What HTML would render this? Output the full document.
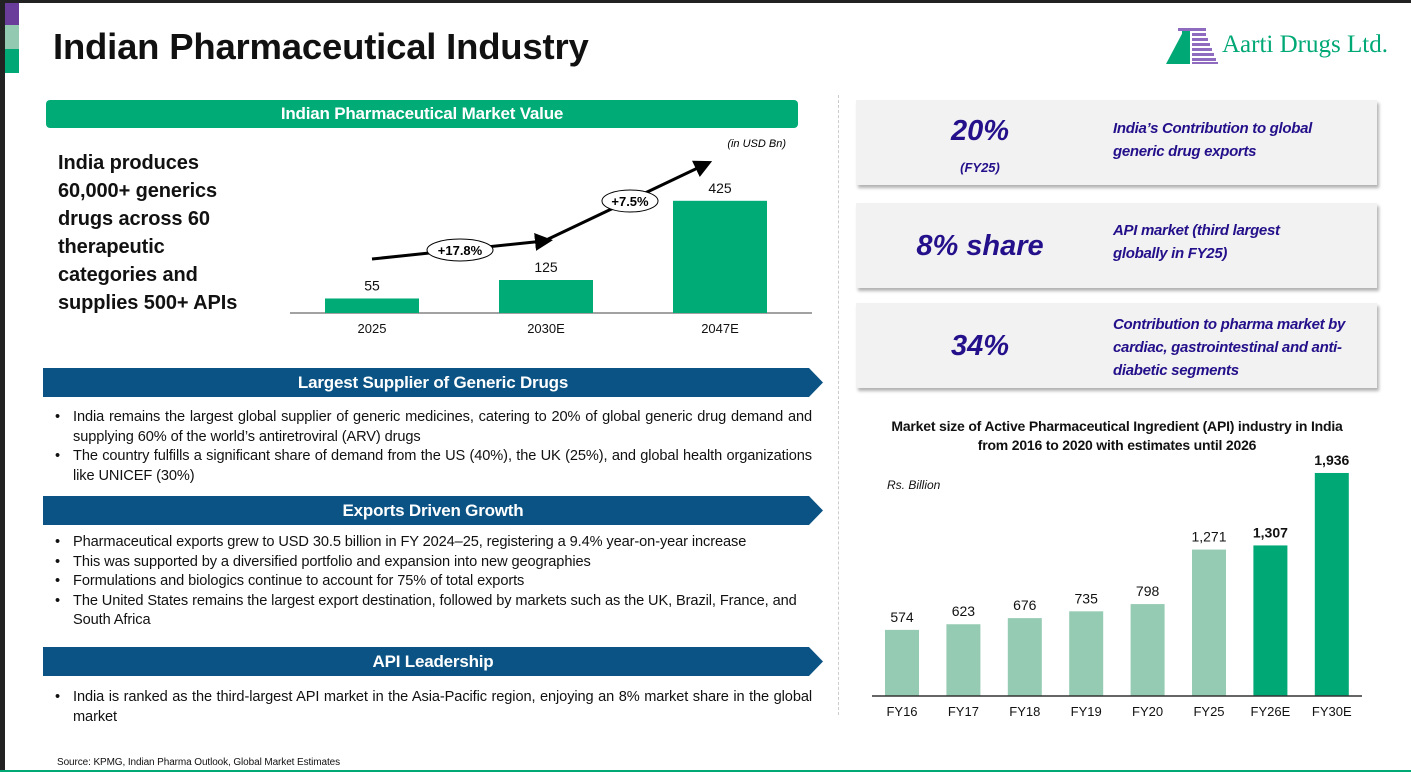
<!DOCTYPE html>
<html><head><meta charset="utf-8">
<style>
*{margin:0;padding:0;box-sizing:border-box}
body{width:1411px;height:772px;position:relative;overflow:hidden;background:#fff;font-family:"Liberation Sans",sans-serif;color:#111}
.a{position:absolute}
.banner{position:absolute;left:43px;width:780px;height:29px;background:#0b5384;color:#fff;font-weight:bold;font-size:17px;text-align:center;line-height:29px;clip-path:polygon(0 0,98.2% 0,100% 50%,98.2% 100%,0 100%);letter-spacing:-0.2px}
.bul{position:absolute;left:55px;width:757px;font-size:14.6px;line-height:19.6px;letter-spacing:-0.1px}
.bul li{list-style:none;position:relative;padding-left:18px;text-align:justify}
.bul li:before{content:"•";position:absolute;left:0}
.card{position:absolute;left:856px;width:521px;height:85px;background:#f2f2f2;box-shadow:2px 3px 3px rgba(0,0,0,.3);color:#23108a;font-weight:bold;font-style:italic}
.big{position:absolute;left:0;width:248px;text-align:center;font-size:29px}
.desc{position:absolute;left:257px;width:258px;font-size:15px;line-height:23px;letter-spacing:-0.3px}
</style></head><body>
<div class="a" style="left:0;top:0;width:5px;height:772px;background:#222"></div>
<div class="a" style="left:0;top:0;width:1411px;height:3px;background:#222"></div>
<div class="a" style="left:5px;top:3px;width:14px;height:22px;background:#6a3d9a"></div>
<div class="a" style="left:5px;top:25px;width:14px;height:24px;background:#93c9b1"></div>
<div class="a" style="left:5px;top:49px;width:14px;height:24px;background:#00a876"></div>
<div class="a" style="left:0;top:770px;width:1411px;height:2px;background:#00a876"></div>

<div class="a" style="left:53px;top:26px;font-size:36.5px;font-weight:bold;letter-spacing:-0.2px">Indian Pharmaceutical Industry</div>

<div class="a" style="left:1164px;top:22px;width:245px;height:46px">
<svg width="60" height="46" viewBox="0 0 60 46"><polygon points="2,42 20,8 22,42" fill="#00a876"/><rect x="18" y="8" width="8" height="34" fill="#00a876"/>
<g fill="#8e6bbf"><rect x="14" y="6" width="14" height="3"/><rect x="28" y="6" width="14" height="3"/><rect x="28" y="11" width="14" height="3"/><rect x="28" y="16" width="16" height="3"/><rect x="28" y="21" width="18" height="3"/><rect x="28" y="26" width="20" height="3"/><rect x="28" y="31" width="22" height="3"/><rect x="28" y="36" width="24" height="3"/><rect x="28" y="40" width="26" height="2"/></g></svg>
<span class="a" style="left:58px;top:9px;font-family:'Liberation Serif',serif;font-size:25px;color:#00a876;white-space:nowrap">Aarti Drugs Ltd.</span></div>

<div class="a" style="left:46px;top:100px;width:752px;height:28px;background:#00ab76;border-radius:4px;color:#fff;font-weight:bold;font-size:17px;line-height:28px;text-align:center;letter-spacing:-0.2px">Indian Pharmaceutical Market Value</div>

<div class="a" style="left:58px;top:149px;font-size:20px;font-weight:bold;line-height:28px;letter-spacing:-0.1px">India produces<br>60,000+ generics<br>drugs across 60<br>therapeutic<br>categories and<br>supplies 500+ APIs</div>

<svg class="a" style="left:0;top:0" width="840" height="350" id="c1"></svg>

<div class="a" style="left:838px;top:95px;height:620px;border-left:1px dashed #ccc"></div>

<div class="banner" style="top:368px">Largest Supplier of Generic Drugs</div>
<ul class="bul" style="top:408px">
<li>India remains the largest global supplier of generic medicines, catering to 20% of global generic drug demand and supplying 60% of the world’s antiretroviral (ARV) drugs</li>
<li>The country fulfills a significant share of demand from the US (40%), the UK (25%), and global health organizations like UNICEF (30%)</li></ul>

<div class="banner" style="top:496px">Exports Driven Growth</div>
<ul class="bul" style="top:533px">
<li>Pharmaceutical exports grew to USD 30.5 billion in FY 2024–25, registering a 9.4% year-on-year increase</li>
<li>This was supported by a diversified portfolio and expansion into new geographies</li>
<li>Formulations and biologics continue to account for 75% of total exports</li>
<li style="text-align:left">The United States remains the largest export destination, followed by markets such as the UK, Brazil, France, and South Africa</li></ul>

<div class="banner" style="top:647px">API Leadership</div>
<ul class="bul" style="top:688px">
<li>India is ranked as the third-largest API market in the Asia-Pacific region, enjoying an 8% market share in the global market</li></ul>

<div class="a" style="left:57px;top:757px;font-size:10px;letter-spacing:-0.1px">Source: KPMG, Indian Pharma Outlook, Global Market Estimates</div>

<div class="card" style="top:100px"><div class="big" style="top:15px">20%</div><div class="a" style="left:0;width:248px;top:60px;text-align:center;font-size:13px">(FY25)</div><div class="desc" style="top:17px">India’s Contribution to global<br>generic drug exports</div></div>
<div class="card" style="top:203px"><div class="big" style="top:27px">8% share</div><div class="desc" style="top:16px">API market (third largest<br>globally in FY25)</div></div>
<div class="card" style="top:303px"><div class="big" style="top:27px">34%</div><div class="desc" style="top:10px">Contribution to pharma market by cardiac, gastrointestinal and anti-diabetic segments</div></div>

<div class="a" style="left:862px;top:417px;width:510px;text-align:center;font-size:14px;font-weight:bold;line-height:19px;letter-spacing:-0.2px">Market size of Active Pharmaceutical Ingredient (API) industry in India<br>from 2016 to 2020 with estimates until 2026</div>
<div class="a" style="left:887px;top:478px;font-size:12px;font-style:italic">Rs. Billion</div>
<svg class="a" style="left:0;top:0" width="1411" height="772" id="c2"></svg>

<script>
const NS="http://www.w3.org/2000/svg";
function mk(p,t,a,txt){const e=document.createElementNS(NS,t);for(const k in a)e.setAttribute(k,a[k]);if(txt!=null)e.textContent=txt;p.appendChild(e);return e;}

// Chart 1 data
const mvCategories=["2025","2030E","2047E"];
const mvValues=[55,125,425];
const mvLabels=["55","125","425"];
const mvGrowth=["+17.8%","+7.5%"];
(function(){
 const s=document.getElementById('c1');
 const base=313,scale=0.264,x0=372,step=174,bw=94;
 const x=i=>x0+i*step, y=v=>base-v*scale;
 const defs=mk(s,'defs',{});const m=mk(defs,'marker',{id:'ah',markerWidth:6,markerHeight:6,refX:3,refY:3,orient:'auto'});mk(m,'path',{d:'M0,0 L6,3 L0,6 z',fill:'#000'});
 mk(s,'line',{x1:290,y1:base,x2:812,y2:base,stroke:'#444','stroke-width':1});
 mvValues.forEach((v,i)=>{
  const r=mk(s,'rect',{x:x(i)-bw/2,y:y(v),width:bw,height:v*scale,fill:'#00ab76'});
  
  const l=mk(s,'text',{x:x(i),y:y(v)-8,'text-anchor':'middle','font-size':14,fill:'#111'},mvLabels[i]);
  
  const c=mk(s,'text',{x:x(i),y:base+20,'text-anchor':'middle','font-size':13,fill:'#111'},mvCategories[i]);
  
 });
 mk(s,'text',{x:786,y:147,'text-anchor':'end','font-size':11,'font-style':'italic'},'(in USD Bn)');
 const a1=mk(s,'line',{x1:x(0),y1:259,x2:x(1)-2,y2:241,stroke:'#000','stroke-width':3,'marker-end':'url(#ah)'});
 
 const a2=mk(s,'line',{x1:x(1)-4,y1:242,x2:x(2)-16,y2:165,stroke:'#000','stroke-width':3,'marker-end':'url(#ah)'});
 
 [[460,250],[630,201]].forEach((p,i)=>{
  const e=mk(s,'ellipse',{cx:p[0],cy:p[1],rx:i?28:33,ry:11,fill:'#fff',stroke:'#000','stroke-width':1});
  
  mk(s,'text',{x:p[0],y:p[1]+5,'text-anchor':'middle','font-size':13,'font-weight':'bold'},mvGrowth[i]);
 });
})();

// Chart 2 data
const apiCategories=["FY16","FY17","FY18","FY19","FY20","FY25","FY26E","FY30E"];
const apiValues=[574,623,676,735,798,1271,1307,1936];
const apiLabels=["574","623","676","735","798","1,271","1,307","1,936"];
const apiEstimate=[false,false,false,false,false,false,true,true];
(function(){
 const s=document.getElementById('c2');
 const base=696,scale=0.1152,x0=902,step=61.4,bw=34;
 const x=i=>x0+i*step, y=v=>base-v*scale;
 apiValues.forEach((v,i)=>{
  const r=mk(s,'rect',{x:x(i)-bw/2,y:y(v),width:bw,height:v*scale,fill:apiEstimate[i]?'#00a876':'#96cbb3'});
  
  const l=mk(s,'text',{x:x(i),y:y(v)-8,'text-anchor':'middle','font-size':14,'font-weight':apiEstimate[i]?'bold':'normal',fill:'#111'},apiLabels[i]);
  
  const c=mk(s,'text',{x:x(i),y:base+20,'text-anchor':'middle','font-size':13,fill:'#111'},apiCategories[i]);
  
 });
 mk(s,'line',{x1:872,y1:base,x2:1362,y2:base,stroke:'#333','stroke-width':1.5});
})();
</script>
</body></html>
